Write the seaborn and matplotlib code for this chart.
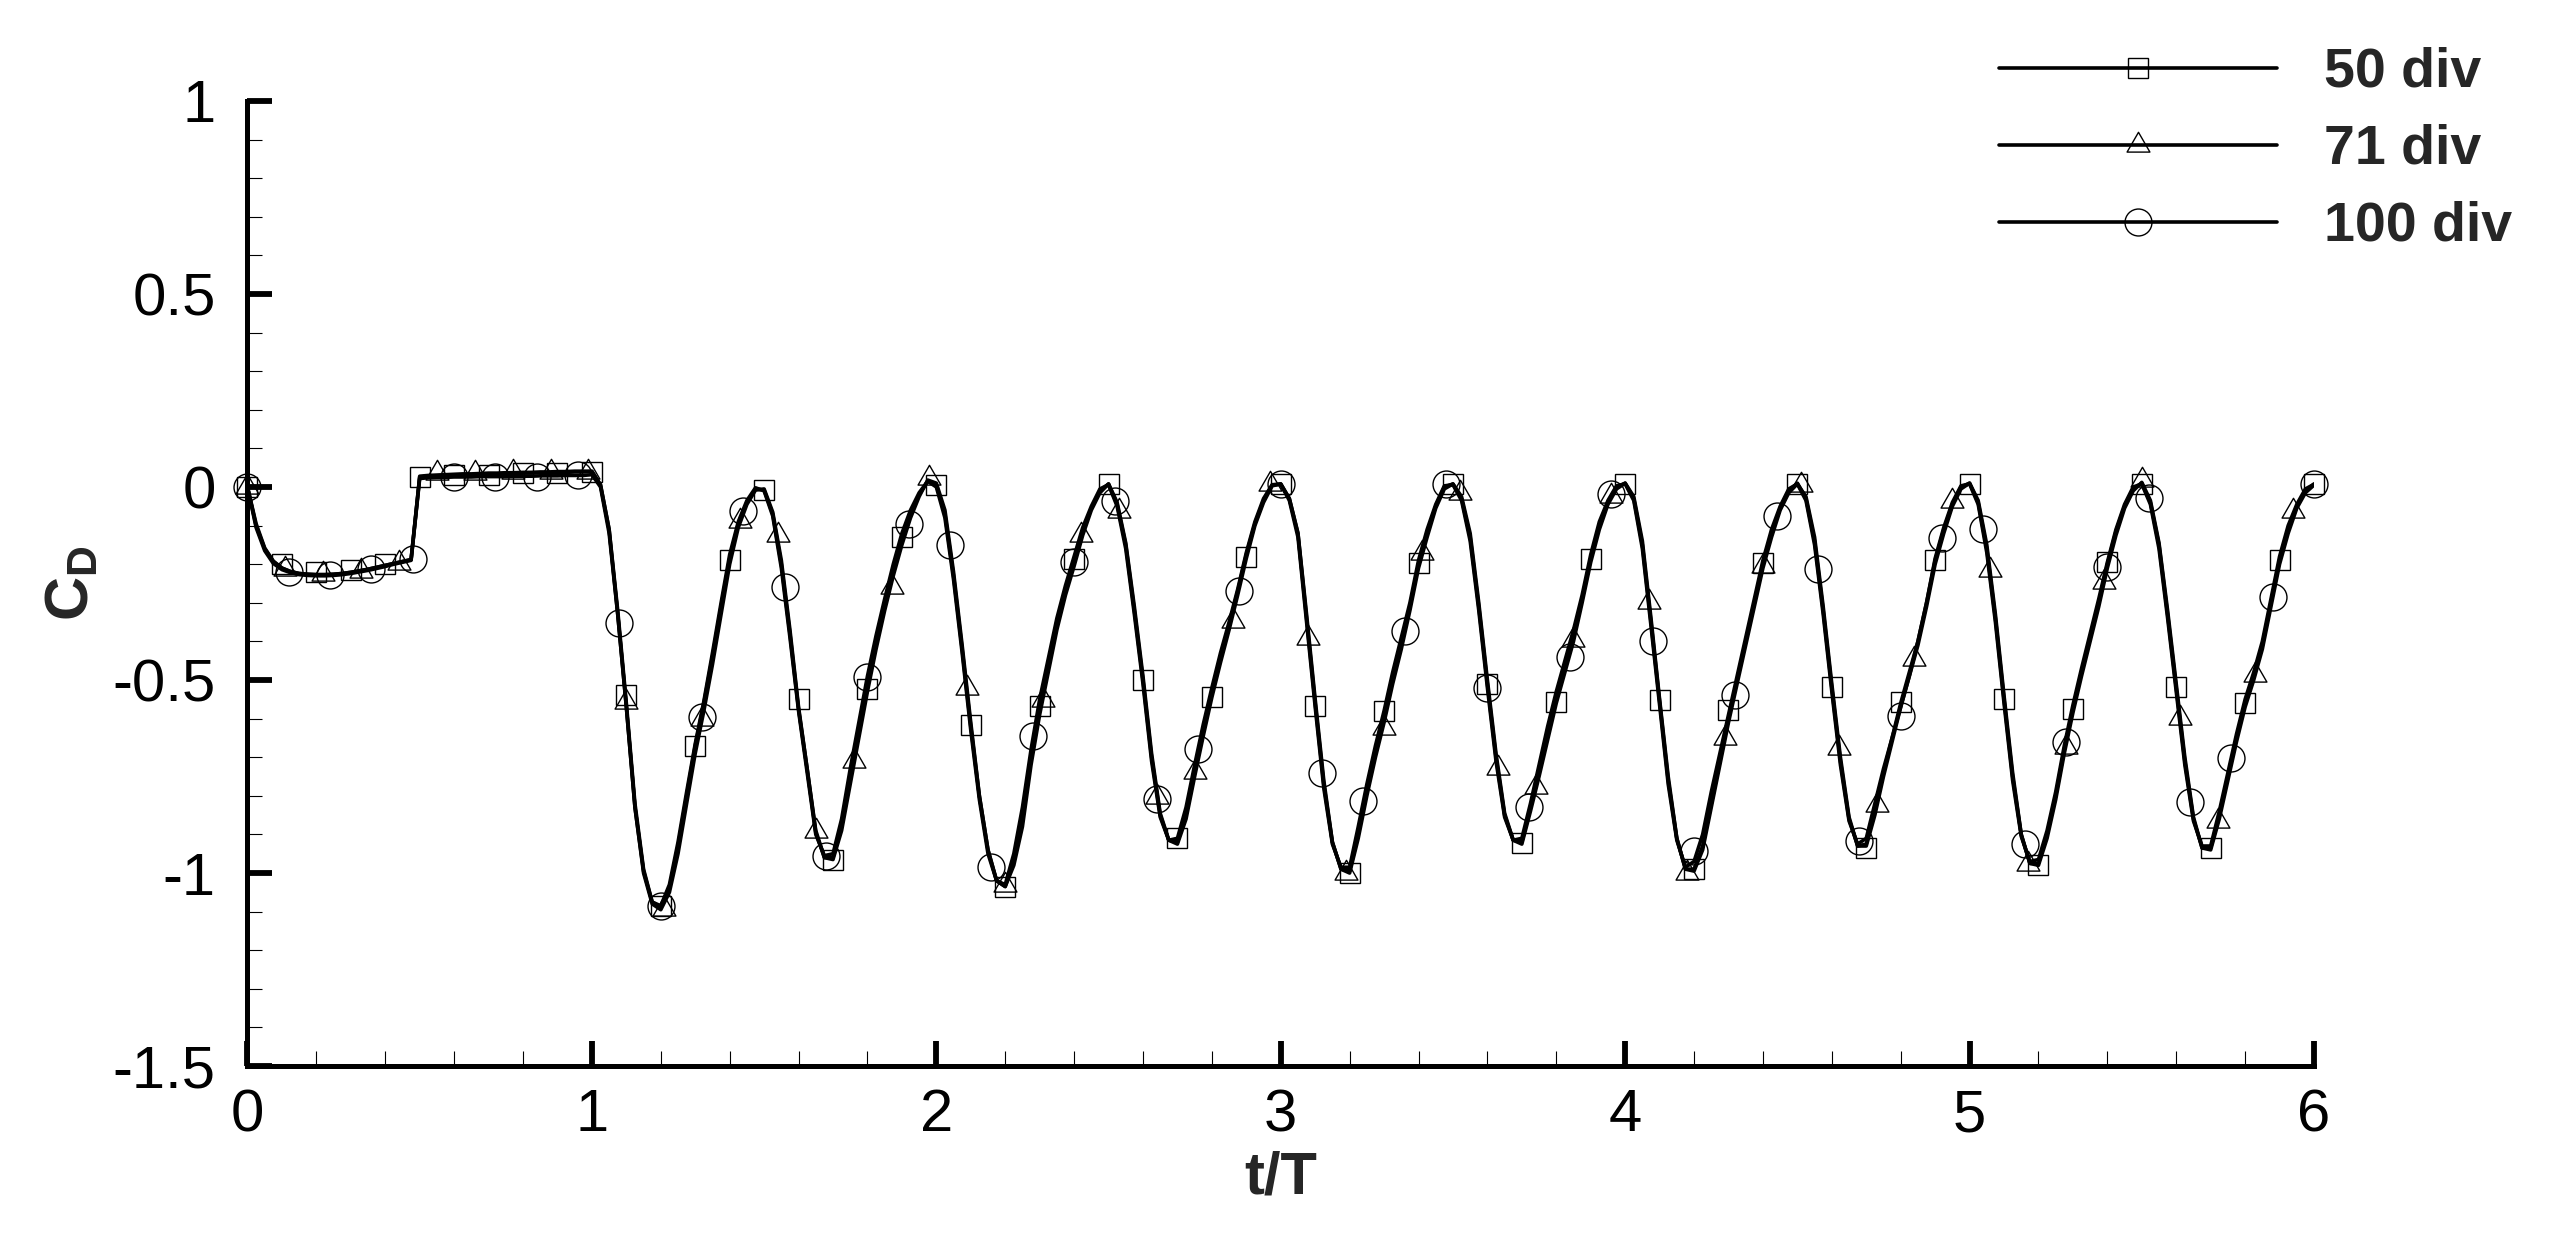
import numpy as np
import matplotlib
matplotlib.use("Agg")
import matplotlib.pyplot as plt
from matplotlib.lines import Line2D
from matplotlib.path import Path
from matplotlib.ticker import MultipleLocator, FuncFormatter
import seaborn as sns

# ---------------------------------------------------------------
# values
# ---------------------------------------------------------------
# dense time grid for the solid lines (t/T), step 0.025
t_line = np.round(np.arange(241) * 0.025, 3)

cd_line_50 = [
    0.0, -0.10, -0.16, -0.193, -0.21, -0.219, -0.224, -0.226, -0.227, -0.227,
    -0.226, -0.224, -0.221, -0.217, -0.213, -0.208, -0.203, -0.198, -0.193, -0.188,
    0.026, 0.028, 0.029, 0.030, 0.031, 0.032, 0.032, 0.033, 0.034, 0.034,
    0.035, 0.035, 0.036, 0.036, 0.037, 0.037, 0.038, 0.038, 0.039, 0.039,
    0.040, 0.005, -0.11, -0.32, -0.56, -0.82, -0.99, -1.075, -1.09, -1.04,
    -0.93, -0.80, -0.67, -0.56, -0.44, -0.31, -0.185, -0.095, -0.04, -0.005,
    -0.008, -0.07, -0.20, -0.38, -0.575, -0.73, -0.895, -0.96, -0.96, -0.88,
    -0.75, -0.63, -0.51, -0.40, -0.30, -0.21, -0.13, -0.07, -0.02, 0.015,
    0.005, -0.07, -0.23, -0.42, -0.62, -0.80, -0.94, -1.02, -1.035, -0.97,
    -0.86, -0.70, -0.57, -0.46, -0.35, -0.265, -0.19, -0.115, -0.055, -0.01,
    0.008, -0.045, -0.15, -0.32, -0.50, -0.70, -0.85, -0.915, -0.92, -0.85,
    -0.74, -0.63, -0.53, -0.44, -0.36, -0.27, -0.175, -0.095, -0.035, 0.005,
    0.008, -0.03, -0.12, -0.34, -0.56, -0.77, -0.92, -0.99, -0.995, -0.90,
    -0.78, -0.68, -0.59, -0.49, -0.40, -0.31, -0.20, -0.12, -0.05, 0.0,
    0.008, -0.03, -0.13, -0.31, -0.51, -0.70, -0.85, -0.915, -0.92, -0.83,
    -0.74, -0.645, -0.55, -0.47, -0.39, -0.29, -0.185, -0.10, -0.04, 0.0,
    0.01, -0.03, -0.15, -0.35, -0.555, -0.76, -0.91, -0.99, -0.99, -0.93,
    -0.82, -0.71, -0.60, -0.50, -0.40, -0.30, -0.20, -0.12, -0.055, -0.01,
    0.01, -0.03, -0.14, -0.32, -0.52, -0.71, -0.86, -0.93, -0.925, -0.84,
    -0.74, -0.65, -0.56, -0.48, -0.40, -0.30, -0.19, -0.11, -0.045, 0.0,
    0.01, -0.04, -0.16, -0.34, -0.55, -0.75, -0.90, -0.975, -0.975, -0.90,
    -0.80, -0.68, -0.575, -0.48, -0.39, -0.30, -0.20, -0.115, -0.05, -0.005,
    0.01, -0.04, -0.15, -0.33, -0.52, -0.71, -0.86, -0.935, -0.935, -0.85,
    -0.75, -0.65, -0.56, -0.49, -0.41, -0.30, -0.19, -0.11, -0.05, -0.01,
    0.008,
]

cd_line_71 = [
    0.0, -0.095, -0.158, -0.192, -0.21, -0.219, -0.224, -0.226, -0.227, -0.227,
    -0.226, -0.224, -0.221, -0.217, -0.213, -0.208, -0.203, -0.198, -0.193, -0.188,
    0.028, 0.030, 0.031, 0.032, 0.033, 0.034, 0.034, 0.035, 0.036, 0.036,
    0.037, 0.037, 0.038, 0.038, 0.039, 0.039, 0.040, 0.040, 0.041, 0.041,
    0.041, 0.006, -0.11, -0.33, -0.57, -0.83, -1.00, -1.08, -1.095, -1.05,
    -0.95, -0.82, -0.69, -0.58, -0.46, -0.33, -0.20, -0.105, -0.045, -0.008,
    -0.005, -0.065, -0.19, -0.37, -0.57, -0.73, -0.89, -0.96, -0.965, -0.89,
    -0.77, -0.65, -0.53, -0.42, -0.32, -0.23, -0.15, -0.08, -0.025, 0.018,
    0.01, -0.06, -0.22, -0.41, -0.61, -0.80, -0.94, -1.02, -1.035, -0.98,
    -0.88, -0.72, -0.59, -0.48, -0.37, -0.28, -0.205, -0.125, -0.06, -0.015,
    0.008, -0.04, -0.145, -0.31, -0.49, -0.69, -0.845, -0.915, -0.925, -0.86,
    -0.75, -0.645, -0.545, -0.455, -0.37, -0.28, -0.185, -0.10, -0.04, 0.003,
    0.008, -0.03, -0.12, -0.33, -0.55, -0.76, -0.92, -0.99, -1.0, -0.91,
    -0.80, -0.70, -0.61, -0.51, -0.42, -0.32, -0.21, -0.13, -0.055, -0.005,
    0.008, -0.025, -0.12, -0.30, -0.50, -0.69, -0.845, -0.915, -0.925, -0.84,
    -0.75, -0.655, -0.56, -0.48, -0.40, -0.30, -0.195, -0.11, -0.045, -0.005,
    0.01, -0.025, -0.14, -0.34, -0.55, -0.75, -0.91, -0.99, -0.995, -0.94,
    -0.83, -0.72, -0.61, -0.51, -0.41, -0.31, -0.21, -0.13, -0.06, -0.015,
    0.008, -0.025, -0.13, -0.31, -0.51, -0.70, -0.855, -0.93, -0.93, -0.85,
    -0.75, -0.66, -0.57, -0.49, -0.41, -0.31, -0.20, -0.12, -0.05, -0.005,
    0.01, -0.035, -0.15, -0.33, -0.54, -0.74, -0.90, -0.975, -0.98, -0.91,
    -0.81, -0.69, -0.585, -0.49, -0.40, -0.31, -0.21, -0.125, -0.055, -0.01,
    0.012, -0.035, -0.145, -0.32, -0.51, -0.70, -0.855, -0.935, -0.94, -0.86,
    -0.76, -0.66, -0.57, -0.50, -0.42, -0.31, -0.20, -0.12, -0.055, -0.015,
    0.005,
]

cd_line_100 = [
    0.0, -0.105, -0.165, -0.198, -0.214, -0.222, -0.227, -0.229, -0.23, -0.23,
    -0.229, -0.227, -0.224, -0.22, -0.216, -0.211, -0.206, -0.20, -0.195, -0.19,
    0.022, 0.024, 0.025, 0.025, 0.026, 0.026, 0.026, 0.027, 0.027, 0.027,
    0.027, 0.028, 0.028, 0.028, 0.029, 0.029, 0.029, 0.030, 0.030, 0.030,
    0.032, 0.0, -0.12, -0.33, -0.57, -0.83, -0.995, -1.075, -1.085, -1.03,
    -0.92, -0.79, -0.665, -0.555, -0.43, -0.30, -0.175, -0.09, -0.035, -0.002,
    -0.01, -0.075, -0.21, -0.39, -0.58, -0.74, -0.90, -0.955, -0.95, -0.86,
    -0.73, -0.61, -0.49, -0.385, -0.29, -0.20, -0.12, -0.06, -0.015, 0.015,
    0.0, -0.08, -0.24, -0.43, -0.63, -0.81, -0.95, -1.02, -1.03, -0.95,
    -0.83, -0.68, -0.55, -0.445, -0.34, -0.255, -0.18, -0.105, -0.05, -0.005,
    0.006, -0.05, -0.16, -0.33, -0.51, -0.71, -0.855, -0.915, -0.91, -0.83,
    -0.72, -0.615, -0.52, -0.43, -0.35, -0.265, -0.17, -0.09, -0.03, 0.006,
    0.007, -0.035, -0.13, -0.35, -0.57, -0.78, -0.925, -0.985, -0.985, -0.88,
    -0.77, -0.67, -0.58, -0.48, -0.39, -0.30, -0.19, -0.11, -0.045, 0.003,
    0.006, -0.035, -0.14, -0.32, -0.52, -0.71, -0.855, -0.915, -0.91, -0.82,
    -0.72, -0.62, -0.53, -0.45, -0.37, -0.28, -0.175, -0.09, -0.035, 0.003,
    0.008, -0.035, -0.16, -0.36, -0.565, -0.77, -0.915, -0.985, -0.97, -0.90,
    -0.79, -0.69, -0.59, -0.49, -0.39, -0.29, -0.19, -0.11, -0.05, -0.005,
    0.008, -0.035, -0.15, -0.33, -0.53, -0.72, -0.865, -0.925, -0.91, -0.82,
    -0.73, -0.65, -0.57, -0.49, -0.40, -0.30, -0.185, -0.105, -0.04, 0.003,
    0.008, -0.045, -0.17, -0.35, -0.56, -0.76, -0.905, -0.97, -0.965, -0.89,
    -0.79, -0.67, -0.565, -0.47, -0.38, -0.29, -0.195, -0.11, -0.045, 0.0,
    0.008, -0.045, -0.16, -0.34, -0.53, -0.72, -0.865, -0.93, -0.93, -0.84,
    -0.74, -0.64, -0.55, -0.48, -0.40, -0.29, -0.18, -0.10, -0.045, -0.005,
    0.007,
]

# symbols, drawn every 0.10 / 0.11 / 0.12 t/T
t_mark_50 = np.round(np.arange(61) * 0.10, 2)
cd_mark_50 = [
    0.0, -0.20, -0.22, -0.216, -0.20, 0.027, 0.03, 0.03, 0.035, 0.035,
    0.04, -0.54, -1.085, -0.67, -0.188, -0.009, -0.549, -0.967, -0.523, -0.13,
    0.006, -0.617, -1.036, -0.566, -0.186, 0.008, -0.501, -0.908, -0.543, -0.182,
    0.008, -0.566, -0.999, -0.581, -0.196, 0.008, -0.51, -0.923, -0.556, -0.186,
    0.008, -0.553, -0.99, -0.578, -0.196, 0.008, -0.517, -0.934, -0.558, -0.188,
    0.007, -0.549, -0.979, -0.575, -0.195, 0.008, -0.519, -0.936, -0.56, -0.188,
    0.007,
]

t_mark_71 = np.round(np.arange(55) * 0.11, 2)
cd_mark_71 = [
    0.0, -0.212, -0.225, -0.218, -0.197, 0.035, 0.035, 0.038, 0.04, 0.04,
    -0.558, -1.094, -0.601, -0.087, -0.125, -0.891, -0.711, -0.26, 0.024, -0.521,
    -1.03, -0.552, -0.125, -0.063, -0.804, -0.737, -0.347, 0.007, -0.391, -1.001,
    -0.624, -0.171, -0.016, -0.728, -0.776, -0.396, -0.024, -0.298, -0.999, -0.651,
    -0.204, 0.004, -0.675, -0.825, -0.445, -0.035, -0.216, -0.977, -0.674, -0.247,
    0.019, -0.598, -0.865, -0.486, -0.062,
]

t_mark_100 = np.round(np.arange(51) * 0.12, 2)
cd_mark_100 = [
    0.0, -0.22, -0.229, -0.212, -0.186, 0.027, 0.025, 0.025, 0.03, -0.353,
    -1.085, -0.595, -0.062, -0.26, -0.955, -0.493, -0.095, -0.151, -0.984, -0.644,
    -0.193, -0.036, -0.808, -0.679, -0.27, 0.007, -0.741, -0.813, -0.374, 0.007,
    -0.52, -0.83, -0.441, -0.017, -0.398, -0.942, -0.538, -0.074, -0.212, -0.917,
    -0.592, -0.131, -0.108, -0.925, -0.66, -0.208, -0.028, -0.817, -0.702, -0.285,
    0.007,
]

labels = ["50 div", "71 div", "100 div"]

# ---------------------------------------------------------------
# style
# ---------------------------------------------------------------
sns.set_style("ticks")
plt.rcParams["font.family"] = ["Liberation Sans", "DejaVu Sans"]
plt.rcParams["axes.unicode_minus"] = False
plt.rcParams["mathtext.fontset"] = "custom"
plt.rcParams["mathtext.rm"] = "Liberation Sans"
plt.rcParams["mathtext.bf"] = "Liberation Sans:bold"

# equilateral triangle marker (centroid at origin)
tri = Path([(0, 1.155), (-1, -0.577), (1, -0.577), (0, 1.155)],
           [Path.MOVETO, Path.LINETO, Path.LINETO, Path.CLOSEPOLY])

styles = [
    dict(marker="s", ms=13.7),
    dict(marker=tri, ms=19.0),
    dict(marker="o", ms=19.4),
]
lines = [cd_line_50, cd_line_71, cd_line_100]
marks = [(t_mark_50, cd_mark_50), (t_mark_71, cd_mark_71), (t_mark_100, cd_mark_100)]

fig = plt.figure(figsize=(25.62, 12.36), dpi=100)
ax = fig.add_axes([0.0966, 0.1375, 0.8066, 0.7808])

lw = 2.6
handles = []
for cd_line, (tm, cdm), st, lab in zip(lines, marks, styles, labels):
    sns.lineplot(x=t_line, y=cd_line, ax=ax, color="black", linewidth=lw,
                 zorder=3, legend=False)
    ax.plot(tm, cdm, linestyle="none", marker=st["marker"], ms=st["ms"],
            mfc="none", mec="black", mew=1.0, clip_on=False, zorder=4)
    handles.append(Line2D([], [], color="black", lw=lw, marker=st["marker"],
                          ms=st["ms"], mfc="none", mec="black", mew=1.0, label=lab))

ax.set_xlim(0, 6)
ax.set_ylim(-1.5, 1)
ax.xaxis.set_major_locator(MultipleLocator(1))
ax.xaxis.set_minor_locator(MultipleLocator(0.2))
ax.yaxis.set_major_locator(MultipleLocator(0.5))
ax.yaxis.set_minor_locator(MultipleLocator(0.1))
fmt = FuncFormatter(lambda v, p: "%g" % v)
ax.xaxis.set_major_formatter(fmt)
ax.yaxis.set_major_formatter(fmt)

for side in ["top", "right"]:
    ax.spines[side].set_visible(False)
for side in ["left", "bottom"]:
    ax.spines[side].set_linewidth(3.6)
    ax.spines[side].set_color("black")

ax.tick_params(which="major", direction="in", length=18, width=4.2,
               color="black", labelsize=43, labelcolor="black")
ax.tick_params(which="minor", direction="in", length=11, width=0.8, color="black")
ax.tick_params(axis="x", which="major", pad=16)
ax.tick_params(axis="y", which="major", pad=23)

ax.set_xlabel("t/T", fontsize=43, fontweight="bold")
ax.xaxis.set_label_coords(0.5, -0.088)
ax.set_ylabel(r"$\mathbf{C_D}$", fontsize=44)
ax.yaxis.set_label_coords(-0.0709, 0.5)

leg = ax.legend(handles=handles, loc="upper left",
                bbox_to_anchor=(0.7803, 0.962), bbox_transform=fig.transFigure,
                frameon=False, borderpad=0, borderaxespad=0, numpoints=1,
                handlelength=5.0, handletextpad=0.85, labelspacing=0.45,
                prop={"family": "Liberation Sans", "weight": "bold", "size": 40})

fig.savefig("out.png", dpi=100, facecolor="white")
